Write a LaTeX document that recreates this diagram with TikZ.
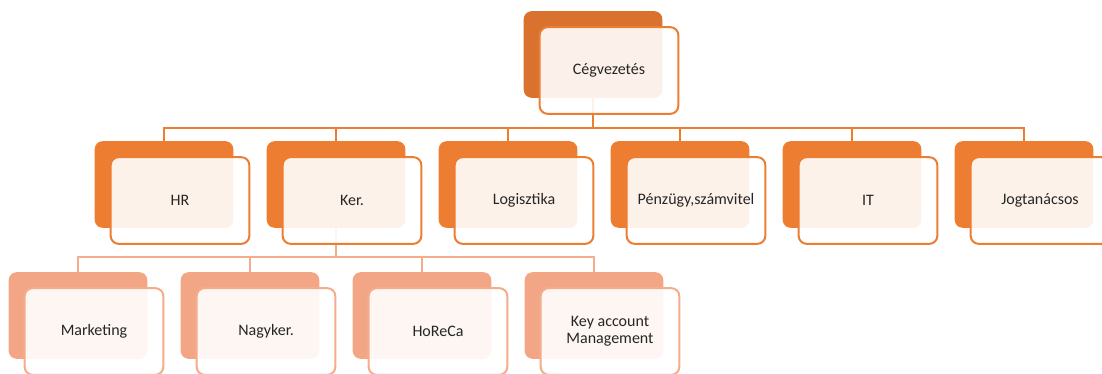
\documentclass[tikz,border=0pt]{standalone}
\usepackage{fontspec}
\setmainfont{Carlito}

\definecolor{orgTop}{RGB}{217,114,46}
\definecolor{orgMid}{RGB}{237,125,49}
\definecolor{orgLow}{RGB}{243,166,133}
\definecolor{orgLowLine}{RGB}{244,172,138}

\begin{document}
\begin{tikzpicture}[x=0.75pt, y=-0.75pt, font=\fontsize{12}{13}\selectfont,
  backbox/.style={rounded corners=6pt, minimum width=104pt, minimum height=65pt, inner sep=0pt, outer sep=0pt},
  frontbox/.style={rounded corners=6pt, draw=#1, line width=1.5pt, fill=white, fill opacity=0.9, text opacity=1,
    text=black!85, minimum width=104pt, minimum height=65pt, inner sep=2pt, align=center},
  link/.style={draw=#1, line width=1.5pt}]
\useasboundingbox (0,0) rectangle (1102,374);

%% back boxes
\node[backbox, fill=orgTop] (cegB) at (593,54.5) {};
\node[backbox, fill=orgMid] (hrB)  at (164,184.5) {};
\node[backbox, fill=orgMid] (kerB) at (336,184.5) {};
\node[backbox, fill=orgMid] (logB) at (508,184.5) {};
\node[backbox, fill=orgMid] (penB) at (680,184.5) {};
\node[backbox, fill=orgMid] (itB)  at (852,184.5) {};
\node[backbox, fill=orgMid] (jogB) at (1024,184.5) {};
\node[backbox, fill=orgLow] (mktB) at (78,315.5) {};
\node[backbox, fill=orgLow] (nagB) at (250,315.5) {};
\node[backbox, fill=orgLow] (horB) at (422,315.5) {};
\node[backbox, fill=orgLow] (keyB) at (594,315.5) {};

%% connectors
\coordinate (barTop) at (593,128);
\coordinate (barKer) at (336,257);
\draw[link=orgMid] (cegB.south) -- (barTop);
\draw[link=orgMid] (barTop) -| (hrB.north);
\draw[link=orgMid] (barTop) -| (kerB.north);
\draw[link=orgMid] (barTop) -| (logB.north);
\draw[link=orgMid] (barTop) -| (penB.north);
\draw[link=orgMid] (barTop) -| (itB.north);
\draw[link=orgMid] (barTop) -| (jogB.north);
\draw[link=orgLowLine] (kerB.south) -- (barKer);
\draw[link=orgLowLine] (barKer) -| (mktB.north);
\draw[link=orgLowLine] (barKer) -| (nagB.north);
\draw[link=orgLowLine] (barKer) -| (horB.north);
\draw[link=orgLowLine] (barKer) -| (keyB.north);

%% front boxes with the texts
\node[frontbox=orgMid] (ceg) at (609,70.5) {Cégvezetés};
\node[frontbox=orgMid] (hr)  at (180,200.5) {HR};
\node[frontbox=orgMid] (ker) at (352,200.5) {Ker.};
\node[frontbox=orgMid] (log) at (524,200.5) {Logisztika};
\node[frontbox=orgMid] (pen) at (696,200.5) {Pénzügy,számvitel};
\node[frontbox=orgMid] (it)  at (868,200.5) {IT};
\node[frontbox=orgMid] (jog) at (1040,200.5) {Jogtanácsos};
\node[frontbox=orgLowLine] (mkt) at (94,331.5) {Marketing};
\node[frontbox=orgLowLine] (nag) at (266,331.5) {Nagyker.};
\node[frontbox=orgLowLine] (hor) at (438,331.5) {HoReCa};
\node[frontbox=orgLowLine] (key) at (610,331.5) {Key account\\Management};
\end{tikzpicture}
\end{document}
